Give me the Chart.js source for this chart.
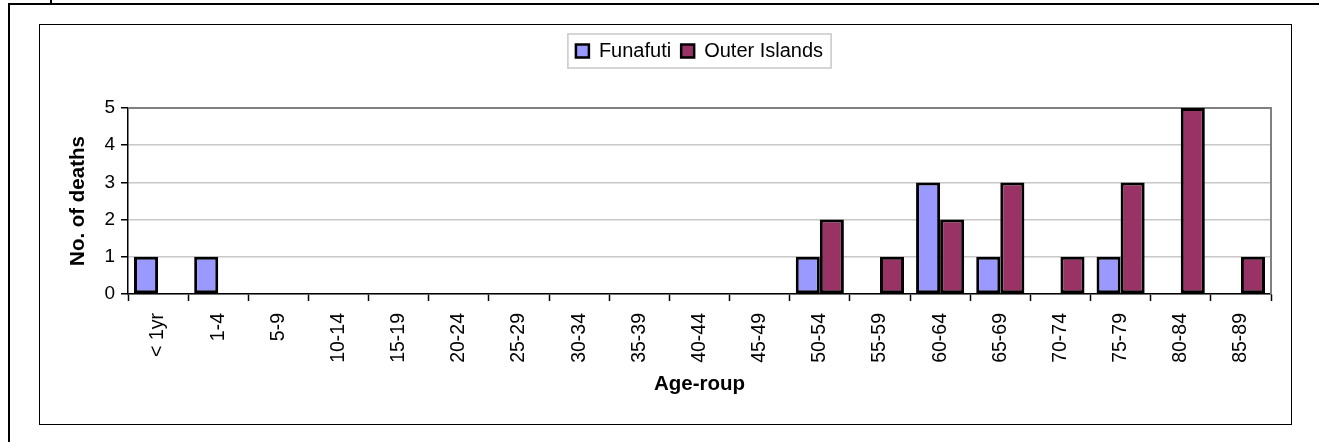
<!DOCTYPE html>
<html><head><meta charset="utf-8">
<script src="https://cdn.jsdelivr.net/npm/chart.js@4.4.1/dist/chart.umd.min.js"></script>
<style>
html,body{margin:0;padding:0;background:#fff;width:1319px;height:442px;overflow:hidden;}
#outer{position:absolute;left:8px;top:3px;width:1400px;height:500px;border-left:2px solid #000;border-top:2px solid #000;}
#tick{position:absolute;left:50px;top:0;width:2px;height:4px;background:#000;}
#box{position:absolute;left:39px;top:24px;width:1251px;height:399px;border:1px solid #000;}
#wrap{position:relative;width:1251px;height:399px;}
</style></head>
<body>
<div id="outer"></div>
<div id="tick"></div>
<div id="box"><div id="wrap"><canvas id="c"></canvas></div></div>
<script>
const categories = ['< 1yr','1-4','5-9','10-14','15-19','20-24','25-29','30-34','35-39','40-44','45-49','50-54','55-59','60-64','65-69','70-74','75-79','80-84','85-89'];
const funafuti = [1,1,0,0,0,0,0,0,0,0,0,1,0,3,1,0,1,0,0];
const outerIslands = [0,0,0,0,0,0,0,0,0,0,0,2,1,2,3,1,3,5,1];
const yTicks = [0,1,2,3,4,5];

const FONT = 'Arial, "Liberation Sans", sans-serif';

const framePlugin = {
  id: 'framePlugin',
  beforeLayout(chart) {
    const lg = chart.legend;
    if (lg && !lg._patched) {
      const f = lg.fit.bind(lg);
      lg.fit = function () { f(); this.height += 37; };
      lg._patched = true;
    }
  },
  afterLayout(chart) {
    const lg = chart.legend;
    if (lg) { lg.left = chart.chartArea.left; lg.right = chart.chartArea.right; }
  },
  beforeDatasetsDraw(chart) {
    const {ctx, chartArea: a} = chart;
    ctx.save();
    ctx.strokeStyle = '#808080';
    ctx.lineWidth = 2;
    ctx.beginPath();
    ctx.moveTo(a.left, a.top);
    ctx.lineTo(a.right, a.top);
    ctx.lineTo(a.right, a.bottom);
    ctx.stroke();
    ctx.restore();
  },
  afterDraw(chart) {
    const lg = chart.legend;
    if (!lg || !lg.legendHitBoxes || !lg.legendHitBoxes.length) return;
    const hb = lg.legendHitBoxes;
    let l = Infinity, r = -Infinity, t = Infinity, b = -Infinity;
    hb.forEach(h => { l = Math.min(l, h.left); r = Math.max(r, h.left + h.width); t = Math.min(t, h.top); b = Math.max(b, h.top + h.height); });
    const ctx = chart.ctx;
    ctx.save();
    ctx.strokeStyle = '#c8c8c8';
    ctx.lineWidth = 1.5;
    ctx.strokeRect(l - 8, t - 7, (r - l) + 16, (b - t) + 14);
    ctx.restore();
  }
};

new Chart(document.getElementById('c'), {
  type: 'bar',
  data: {
    labels: categories,
    datasets: [
      { label: 'Funafuti', data: funafuti, backgroundColor: '#9999FF', borderColor: '#000',
        borderWidth: c => c.raw === 0 ? 0 : 3, borderSkipped: false,
        categoryPercentage: 0.8, barPercentage: 1.0 },
      { label: 'Outer Islands', data: outerIslands, backgroundColor: '#993366', borderColor: '#000',
        borderWidth: c => c.raw === 0 ? 0 : 3, borderSkipped: false,
        categoryPercentage: 0.8, barPercentage: 1.0 }
    ]
  },
  options: {
    responsive: true,
    maintainAspectRatio: false,
    animation: false,
    layout: { padding: { top: 6, right: 20, left: 0, bottom: 0 } },
    plugins: {
      tooltip: { enabled: false },
      legend: {
        position: 'top',
        labels: {
          font: { family: FONT, size: 20 },
          color: '#000',
          boxWidth: 13, boxHeight: 13,
          padding: 10,
          generateLabels(chart) {
            return chart.data.datasets.map((d, i) => ({
              text: d.label, fillStyle: d.backgroundColor, strokeStyle: '#000',
              lineWidth: 2.5, datasetIndex: i, hidden: false, fontColor: '#000'
            }));
          }
        }
      }
    },
    scales: {
      x: {
        offset: true,
        grid: { display: true, drawOnChartArea: false, drawTicks: true, offset: true, tickLength: 7, tickColor: '#000', tickWidth: 1.5 },
        border: { display: true, color: '#000', width: 1.5 },
        ticks: { font: { family: FONT, size: 19.5 }, color: '#000', maxRotation: 90, minRotation: 90, padding: 12, autoSkip: false },
        title: { display: true, text: 'Age-roup', font: { family: FONT, size: 20.5, weight: 'bold' }, color: '#000', padding: { top: 6, bottom: 27 } },
        afterFit(s) { s.height = 130; }
      },
      y: {
        min: 0, max: 5,
        afterBuildTicks(s) { s.ticks = yTicks.map(v => ({ value: v })); },
        grid: { color: '#c8c8c8', lineWidth: 1.5, tickLength: 7, tickColor: '#000', tickWidth: 1.5 },
        border: { display: true, color: '#000', width: 1.5 },
        ticks: { font: { family: FONT, size: 19 }, color: '#000', padding: 6 },
        title: { display: true, text: 'No. of deaths', font: { family: FONT, size: 20.5, weight: 'bold' }, color: '#000', padding: { top: 26, bottom: 6 } },
        afterFit(s) { s.width = 88; }
      }
    }
  },
  plugins: [framePlugin]
});
</script>
</body></html>
